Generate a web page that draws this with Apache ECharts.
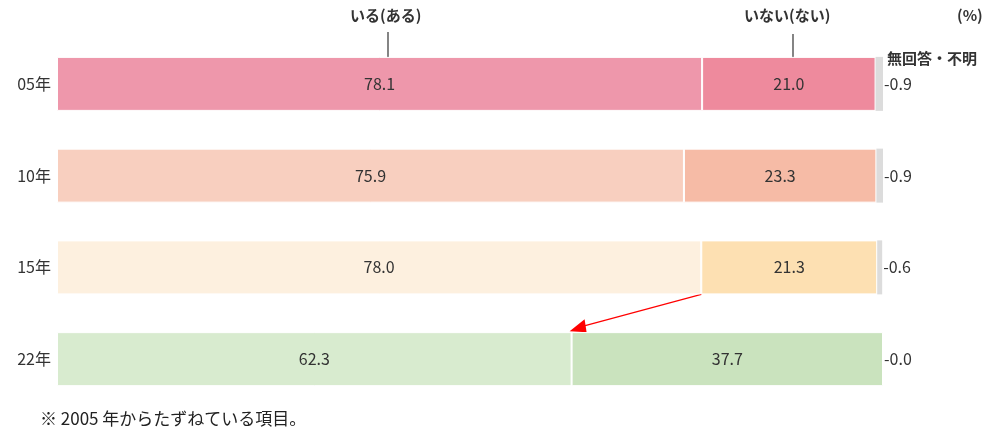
<!DOCTYPE html>
<html>
<head>
<meta charset="utf-8">
<script src="https://cdn.jsdelivr.net/npm/echarts@6/dist/echarts.min.js"></script>
<style>
  html, body { margin: 0; padding: 0; background: #fff; }
  #chart { width: 987px; height: 434px; }
</style>
</head>
<body>
<div id="chart"></div>
<script>
// データ
const years = ['05年', '10年', '15年', '22年'];
const iru = [78.1, 75.9, 78.0, 62.3];      // いる(ある)
const inai = [21.0, 23.3, 21.3, 37.7];     // いない(ない)
const mukaitou = [0.9, 0.9, 0.6, 0.0];     // 無回答・不明

// 年ごとの色
const iruColors = ['#EE97AB', '#F8CFBF', '#FDF0DF', '#D8EBCF'];
const inaiColors = ['#EE8A9D', '#F6BBA6', '#FDE0B2', '#CAE3BE'];

const FONT = '"Noto Sans CJK JP", "Noto Sans", sans-serif';
const chart = echarts.init(document.getElementById('chart'));

function colored(values, colors) {
  return values.map((v, i) => ({ value: v, itemStyle: { color: colors[i] } }));
}

const option = {
  animation: false,
  textStyle: { fontFamily: FONT },
  grid: { left: 57, right: 104, top: 38, bottom: 29, containLabel: false },
  xAxis: {
    type: 'value', min: 0, max: 100,
    show: false
  },
  yAxis: {
    type: 'category',
    data: years,
    inverse: true,
    axisLine: { show: false },
    axisTick: { show: false },
    axisLabel: { color: '#333', fontSize: 16, margin: 6, fontFamily: FONT }
  },
  series: [
    {
      name: 'いる(ある)', type: 'bar', stack: 'all', barWidth: 54,
      data: colored(iru, iruColors),
      itemStyle: { borderColor: '#fff', borderWidth: 1 },
      label: { show: true, position: 'inside', color: '#333', fontSize: 16, fontFamily: FONT,
        formatter: p => p.value.toFixed(1) }
    },
    {
      name: 'いない(ない)', type: 'bar', stack: 'all', barWidth: 54,
      data: colored(inai, inaiColors),
      itemStyle: { borderColor: '#fff', borderWidth: 1 },
      label: { show: true, position: 'inside', color: '#333', fontSize: 16, fontFamily: FONT,
        formatter: p => p.value.toFixed(1) }
    },
    {
      name: '無回答・不明', type: 'bar', stack: 'all', barWidth: 54,
      data: mukaitou,
      itemStyle: { color: '#DCDCDC' },
      label: { show: true, position: 'right', distance: 1, color: '#333', fontSize: 16, fontFamily: FONT,
        formatter: p => '-' + p.value.toFixed(1) }
    }
  ]
};
chart.setOption(option);

// 注記（見出し・引き出し線・矢印）
const from = chart.convertToPixel({ gridIndex: 0 }, [iru[2], years[2]]);
const to = chart.convertToPixel({ gridIndex: 0 }, [iru[3], years[3]]);
const half = 27;
chart.setOption({
  graphic: [
    { type: 'text', left: 350, top: 8, style: { text: 'いる(ある)', font: 'bold 15px ' + FONT, fill: '#333' } },
    { type: 'line', shape: { x1: 388, y1: 32, x2: 388, y2: 66 }, style: { stroke: '#333', lineWidth: 1.2 } },
    { type: 'text', left: 744, top: 8, style: { text: 'いない(ない)', font: 'bold 15px ' + FONT, fill: '#333' } },
    { type: 'line', shape: { x1: 793, y1: 34, x2: 793, y2: 66 }, style: { stroke: '#333', lineWidth: 1.2 } },
    { type: 'text', left: 957, top: 8, style: { text: '(%)', font: 'bold 15px ' + FONT, fill: '#333' } },
    { type: 'text', left: 887, top: 51, style: { text: '無回答・不明', font: 'bold 15px ' + FONT, fill: '#333' } },
    { type: 'text', left: 40, top: 410, style: { text: '※ 2005 年からたずねている項目。', font: '17px ' + FONT, fill: '#222' } },
    { type: 'line', shape: { x1: from[0], y1: from[1] + half, x2: to[0] + 8, y2: to[1] - half - 5 },
      style: { stroke: '#F00', lineWidth: 1.2 } },
    { type: 'polygon',
      shape: { points: [[to[0] - 2, to[1] - half - 1], [to[0] + 13, to[1] - half - 13], [to[0] + 15, to[1] - half]] },
      style: { fill: '#F00' } }
  ]
});
</script>
</body>
</html>
